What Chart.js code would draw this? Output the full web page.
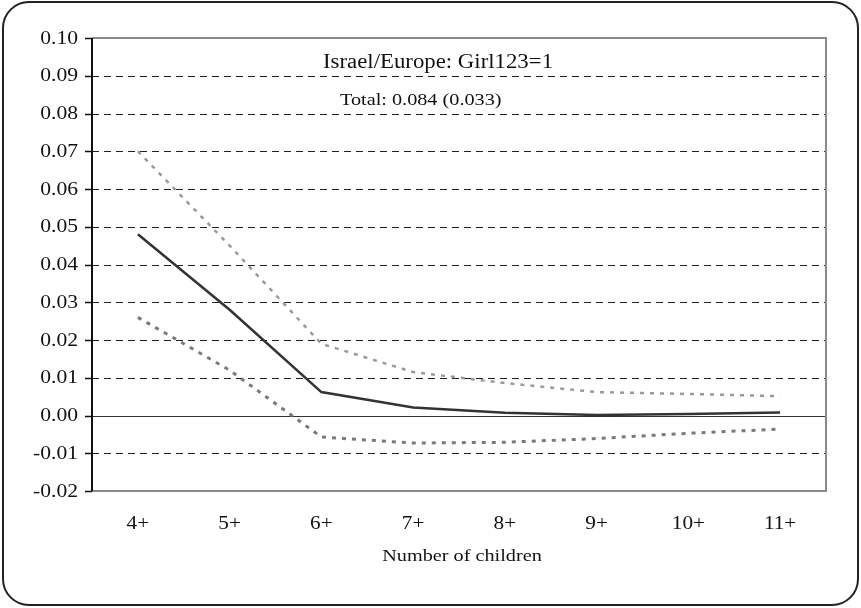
<!DOCTYPE html>
<html lang="en">
<head>
  <meta charset="UTF-8">
  <title>Israel/Europe: Girl123=1</title>
  <script src="https://cdn.jsdelivr.net/npm/chart.js"></script>
  <style>
    html, body { margin: 0; padding: 0; background: #fff; }
    #wrap { width: 861px; height: 608px; }
  </style>
</head>
<body>
  <div id="wrap"><canvas id="chart" width="861" height="608"></canvas></div>
  <script>
    // data
    const categories = ['4+', '5+', '6+', '7+', '8+', '9+', '10+', '11+'];
    const estimate = [0.048, 0.028, 0.0062, 0.0021, 0.0007, 0.0001, 0.0004, 0.0008];
    const upperBound = [0.070, 0.045, 0.019, 0.0115, 0.0086, 0.0062, 0.0057, 0.0051];
    const lowerBound = [0.026, 0.012, -0.0057, -0.0073, -0.0071, -0.0061, -0.0047, -0.0036];
    const yTicks = [-0.02, -0.01, 0.00, 0.01, 0.02, 0.03, 0.04, 0.05, 0.06, 0.07, 0.08, 0.09, 0.10];
    const titleText = 'Israel/Europe: Girl123=1';
    const subtitleText = 'Total: 0.084 (0.033)';
    const xTitle = 'Number of children';

    const serif = '"Liberation Serif", "Times New Roman", serif';

    // the original text is a bit wider than plain Times, so stretch it
    function wideText(ctx, text, x, y, align, size, sx) {
      ctx.save();
      ctx.translate(x, y);
      ctx.scale(sx, 1);
      ctx.font = size + 'px ' + serif;
      ctx.textAlign = align;
      ctx.fillText(text, 0, 0);
      ctx.restore();
    }

    // frame, grid lines, axis borders and all the labels
    const decor = {
      id: 'decor',
      beforeDraw(chart) {
        const ctx = chart.ctx;
        ctx.save();
        ctx.fillStyle = '#fff';
        ctx.fillRect(0, 0, chart.width, chart.height);
        ctx.strokeStyle = '#222';
        ctx.lineWidth = 2;
        ctx.beginPath();
        ctx.roundRect(3, 2, 855, 603, 26);
        ctx.stroke();
        ctx.restore();
      },
      beforeDatasetsDraw(chart) {
        const ctx = chart.ctx;
        const a = chart.chartArea;
        const y = chart.scales.y;
        const x = chart.scales.x;
        ctx.save();
        yTicks.forEach(v => {
          const py = Math.round(y.getPixelForValue(v)) + 0.5;
          if (v === 0.10 || v === -0.02) return;
          ctx.beginPath();
          ctx.lineWidth = 1;
          if (v === 0) {
            ctx.setLineDash([]);
            ctx.strokeStyle = '#333';
          } else {
            ctx.setLineDash([7, 5]);
            ctx.strokeStyle = '#222';
          }
          ctx.moveTo(a.left, py);
          ctx.lineTo(a.right, py);
          ctx.stroke();
        });
        ctx.setLineDash([]);
        // grey box on top, right, bottom
        ctx.strokeStyle = '#8a8a8a';
        ctx.lineWidth = 2;
        ctx.beginPath();
        ctx.moveTo(a.left, a.top);
        ctx.lineTo(a.right, a.top);
        ctx.lineTo(a.right, a.bottom);
        ctx.lineTo(a.left, a.bottom);
        ctx.stroke();
        // black value axis with ticks
        ctx.strokeStyle = '#111';
        ctx.beginPath();
        ctx.moveTo(a.left, a.top);
        ctx.lineTo(a.left, a.bottom);
        ctx.stroke();
        ctx.lineWidth = 1.5;
        yTicks.forEach(v => {
          const py = Math.round(y.getPixelForValue(v)) + 0.5;
          ctx.beginPath();
          ctx.moveTo(a.left - 7, py);
          ctx.lineTo(a.left, py);
          ctx.stroke();
        });

        ctx.fillStyle = '#111';
        ctx.textBaseline = 'middle';
        yTicks.forEach(v => {
          wideText(ctx, v.toFixed(2), a.left - 14, y.getPixelForValue(v) + 1, 'right', 18, 1.2);
        });
        categories.forEach((c, i) => {
          wideText(ctx, c, x.getPixelForValue(i), 524, 'center', 18, 1.18);
        });
        wideText(ctx, xTitle, 462, 557, 'center', 17, 1.19);

        ctx.textBaseline = 'alphabetic';
        wideText(ctx, titleText, 323, 68, 'left', 20, 1.14);
        wideText(ctx, subtitleText, 340, 105, 'left', 17, 1.19);
        ctx.restore();
      }
    };

    new Chart(document.getElementById('chart'), {
      type: 'line',
      data: {
        labels: categories,
        datasets: [
          {
            label: 'upper',
            data: upperBound,
            borderColor: '#9a9a9a',
            borderWidth: 2.5,
            borderDash: [4, 6],
            pointRadius: 0,
            tension: 0
          },
          {
            label: 'lower',
            data: lowerBound,
            borderColor: '#7a7a7a',
            borderWidth: 3,
            borderDash: [4, 6],
            pointRadius: 0,
            tension: 0
          },
          {
            label: 'estimate',
            data: estimate,
            borderColor: '#333',
            borderWidth: 2.5,
            pointRadius: 0,
            tension: 0
          }
        ]
      },
      options: {
        responsive: false,
        animation: false,
        layout: { padding: { top: 38, right: 35, bottom: 0, left: 0 } },
        plugins: {
          legend: { display: false },
          tooltip: { enabled: false }
        },
        scales: {
          x: {
            offset: true,
            grid: { display: false, drawTicks: false },
            border: { display: false },
            ticks: { display: false },
            afterFit(s) { s.height = 117; }
          },
          y: {
            min: -0.02,
            max: 0.10,
            grid: { display: false, drawTicks: false },
            border: { display: false },
            afterBuildTicks(s) { s.ticks = yTicks.map(v => ({ value: v })); },
            ticks: { display: false },
            afterFit(s) { s.width = 92; }
          }
        }
      },
      plugins: [decor]
    });
  </script>
</body>
</html>
